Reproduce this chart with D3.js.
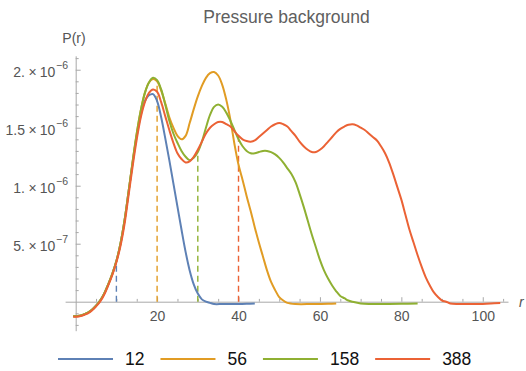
<!DOCTYPE html>
<html>
<head>
<meta charset="utf-8">
<script src="https://cdn.jsdelivr.net/npm/d3@7"></script>
<style>
  body { margin: 0; background: #fff; }
  svg { display: block; }
  text { font-family: "Liberation Sans", Arial, sans-serif; }
</style>
</head>
<body>
<svg id="chart" width="526" height="371"></svg>
<script>
// Series labels and colours
const seriesNames = ["12", "56", "158", "388"];
const seriesColors = ["#5E81B5", "#E19C24", "#8FB032", "#EB6235"];

// P(r) samples as [r, P] with P in units of 1e-6
const p12 = [[-0.6,-0.125],[0,-0.125],[1,-0.12],[2,-0.11],[3,-0.095],[4,-0.07],[5,-0.035],[6,0.01],[7,0.07],[8,0.15],[9,0.24],[10,0.35],[11,0.5],[12,0.7],[13,0.95],[14,1.2],[15,1.43],[16,1.61],[17,1.73],[18,1.78],[19,1.79],[20,1.73],[21,1.59],[22,1.41],[23,1.22],[24,1.02],[25,0.82],[26,0.62],[27,0.43],[28,0.27],[29,0.15],[30,0.07],[31,0.02],[32,0],[33,-0.01],[34,-0.02],[36,-0.02],[38,-0.02],[40,-0.02],[42,-0.018],[44,-0.015]];

const p56 = [[-0.6,-0.125],[0,-0.125],[1,-0.12],[2,-0.11],[3,-0.095],[4,-0.07],[5,-0.035],[6,0.01],[7,0.07],[8,0.15],[9,0.24],[10,0.35],[11,0.5],[12,0.7],[13,0.95],[14,1.21],[15,1.45],[16,1.65],[17,1.8],[18,1.89],[19,1.92],[20,1.9],[21,1.82],[22,1.71],[23,1.59],[24,1.5],[25,1.43],[26,1.4],[27,1.43],[28,1.54],[29,1.66],[30,1.77],[31,1.86],[32,1.93],[33,1.97],[34,1.98],[35,1.95],[36,1.87],[37,1.74],[38,1.57],[39,1.36],[40,1.18],[41,1.05],[42,0.91],[43,0.78],[44,0.64],[45,0.51],[46,0.39],[47,0.27],[48,0.17],[49,0.1],[50,0.04],[51,0.01],[52,-0.01],[54,-0.02],[58,-0.02],[62,-0.018],[64,-0.015]];

const p158 = [[-0.6,-0.125],[0,-0.125],[1,-0.12],[2,-0.11],[3,-0.095],[4,-0.07],[5,-0.035],[6,0.01],[7,0.07],[8,0.15],[9,0.24],[10,0.35],[11,0.5],[12,0.7],[13,0.95],[14,1.21],[15,1.45],[16,1.65],[17,1.8],[18,1.89],[19,1.93],[20,1.91],[21,1.83],[22,1.7],[23,1.56],[24,1.45],[25,1.37],[26,1.3],[27,1.25],[28,1.22],[29,1.24],[30,1.29],[31,1.38],[32,1.5],[33,1.61],[34,1.68],[35,1.7],[36,1.68],[37,1.63],[38,1.56],[39,1.48],[40,1.4],[41,1.34],[42,1.3],[43,1.28],[44,1.28],[45,1.29],[46,1.3],[47,1.3],[48,1.29],[49,1.27],[50,1.24],[51,1.2],[52,1.15],[53,1.1],[54,1.03],[55,0.93],[56,0.82],[57,0.7],[58,0.58],[59,0.47],[60,0.36],[61,0.27],[62,0.2],[63,0.14],[64,0.09],[65,0.05],[66,0.03],[67,0.01],[68,0],[70,-0.015],[72,-0.02],[76,-0.02],[80,-0.018],[84,-0.015]];

const p388 = [[-0.6,-0.13],[0,-0.13],[1,-0.125],[2,-0.115],[3,-0.1],[4,-0.075],[5,-0.04],[6,0.0],[7,0.06],[8,0.14],[9,0.23],[10,0.34],[11,0.48],[12,0.67],[13,0.92],[14,1.17],[15,1.4],[16,1.59],[17,1.72],[18,1.8],[19,1.83],[20,1.81],[21,1.72],[22,1.6],[23,1.48],[24,1.37],[25,1.28],[26,1.23],[27,1.2],[28,1.21],[29,1.25],[30,1.31],[31,1.38],[32,1.45],[33,1.5],[34,1.53],[35,1.55],[36,1.55],[37,1.53],[38,1.51],[39,1.47],[40,1.43],[41,1.4],[42,1.385],[43,1.38],[44,1.39],[45,1.42],[46,1.45],[47,1.48],[48,1.51],[49,1.53],[50,1.54],[51,1.53],[52,1.51],[53,1.47],[54,1.43],[55,1.38],[56,1.34],[57,1.31],[58,1.29],[59,1.29],[60,1.31],[61,1.34],[62,1.38],[63,1.42],[64,1.46],[65,1.49],[66,1.51],[67,1.525],[68,1.53],[69,1.52],[70,1.5],[71,1.48],[72,1.45],[73,1.42],[74,1.39],[75,1.34],[76,1.28],[77,1.2],[78,1.1],[79,0.99],[80,0.88],[81,0.75],[82,0.62],[83,0.51],[84,0.4],[85,0.3],[86,0.21],[87,0.14],[88,0.08],[89,0.04],[90,0.01],[91,0],[92,-0.015],[94,-0.02],[98,-0.02],[102,-0.015],[104.3,-0.012]];

const seriesData = [p12, p56, p158, p388];

// Radius where each series gets a dashed drop line
const markerR = [10, 20, 30, 40];

// Axis ticks
const xMajorTicks = [20, 40, 60, 80, 100];
const xMinorTicks = [5, 10, 15, 25, 30, 35, 45, 50, 55, 65, 70, 75, 85, 90, 95, 105];
const yMajorTicks = [0.5, 1, 1.5, 2];
const yTickMantissa = ["5.", "1.", "1.5", "2."];
const yTickExponent = ["\u22127", "\u22126", "\u22126", "\u22126"];
const yMinorTicks = [-0.2, -0.1, 0.1, 0.2, 0.3, 0.4, 0.6, 0.7, 0.8, 0.9, 1.1, 1.2, 1.3, 1.4, 1.6, 1.7, 1.8, 1.9, 2.1];

const UNIT = 1e-6;
const svg = d3.select("#chart");
const axisColor = "#a8a8a8";
const labelColor = "#555";

const x = d3.scaleLinear().domain([-2.6, 106.2]).range([65.1, 508]);
const y = d3.scaleLinear().domain([-0.25 * UNIT, 2.12 * UNIT]).range([330.7, 55.8]);

// Title
svg.append("text")
  .attr("x", 286.5).attr("y", 22.7)
  .attr("text-anchor", "middle")
  .attr("font-size", 17.5)
  .attr("fill", "#606060")
  .text("Pressure background");

// x axis
const xAxisG = svg.append("g").attr("transform", `translate(0,${y(0)})`);
xAxisG.call(d3.axisBottom(x).tickValues(xMajorTicks).tickSizeInner(-4.5).tickSizeOuter(0).tickPadding(9));
xAxisG.append("g").call(d3.axisBottom(x).tickValues(xMinorTicks).tickSizeInner(-2.8).tickSizeOuter(0).tickFormat(""))
  .select(".domain").remove();
xAxisG.selectAll("path, line").attr("stroke", axisColor);
xAxisG.selectAll("text").attr("fill", labelColor).attr("font-size", 14).attr("font-family", "Liberation Sans, Arial, sans-serif");

// y axis
const yAxisG = svg.append("g").attr("transform", `translate(${x(0)},0)`);
yAxisG.call(d3.axisLeft(y).tickValues(yMajorTicks.map(v => v * UNIT)).tickSizeInner(-5).tickSizeOuter(0).tickPadding(8).tickFormat(""));
yAxisG.append("g").call(d3.axisLeft(y).tickValues(yMinorTicks.map(v => v * UNIT)).tickSizeInner(-3).tickSizeOuter(0).tickFormat(""))
  .select(".domain").remove();
yAxisG.selectAll("path, line").attr("stroke", axisColor);

// y tick labels in Mathematica style: m × 10^e
const yLabels = svg.append("g").attr("fill", labelColor).attr("font-size", 14);
yMajorTicks.forEach((v, i) => {
  const t = yLabels.append("text")
    .attr("x", 68).attr("y", y(v * UNIT) + 7)
    .attr("text-anchor", "end");
  t.append("tspan").text(yTickMantissa[i]);
  t.append("tspan").attr("dx", 3.5).text("\u00d7");
  t.append("tspan").attr("dx", 3).text("10");
  t.append("tspan").attr("dx", 0.8).attr("dy", -8.2).attr("font-size", 10.5).text(yTickExponent[i]);
});

// Axis labels
svg.append("text")
  .attr("x", 74).attr("y", 42.5)
  .attr("text-anchor", "middle")
  .attr("font-size", 14).attr("fill", labelColor)
  .text("P(r)");
svg.append("text")
  .attr("x", 519).attr("y", 306.5)
  .attr("font-size", 14).attr("font-style", "italic").attr("fill", labelColor)
  .text("r");

// Dashed drop lines at the marker radii
const drops = svg.append("g");
markerR.forEach((r, i) => {
  const pt = seriesData[i].find(d => d[0] === r);
  drops.append("line")
    .attr("x1", x(r)).attr("x2", x(r))
    .attr("y1", y(0)).attr("y2", y(pt[1] * UNIT))
    .attr("stroke", seriesColors[i])
    .attr("stroke-width", 1.4)
    .attr("stroke-dasharray", "6,4");
});

// Curves
const line = d3.line()
  .x(d => x(d[0]))
  .y(d => y(d[1] * UNIT))
  .curve(d3.curveCatmullRom.alpha(0.5));

svg.append("g").selectAll("path")
  .data(seriesData)
  .join("path")
  .attr("d", line)
  .attr("fill", "none")
  .attr("stroke", (d, i) => seriesColors[i])
  .attr("stroke-width", 2)
  .attr("stroke-linejoin", "round");

// Legend
const legend = svg.append("g");
let lx = 58;
seriesNames.forEach((name, i) => {
  legend.append("line")
    .attr("x1", lx).attr("x2", lx + 55)
    .attr("y1", 359).attr("y2", 359)
    .attr("stroke", seriesColors[i]).attr("stroke-width", 2);
  const t = legend.append("text")
    .attr("x", lx + 67).attr("y", 364.5)
    .attr("font-size", 17.5).attr("fill", "#111")
    .text(name);
  lx = lx + 67 + t.node().getComputedTextLength() + 16;
});
</script>
</body>
</html>
